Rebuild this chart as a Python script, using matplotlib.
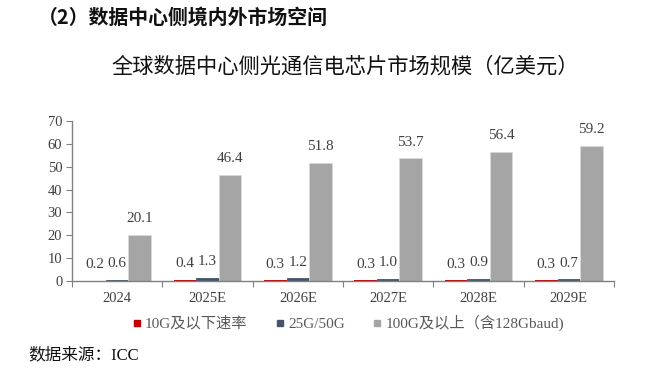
import numpy as np
import matplotlib
matplotlib.use("Agg")
import matplotlib.pyplot as plt
from matplotlib.lines import Line2D

plt.rcParams['font.family'] = ['Liberation Serif', 'Noto Sans CJK SC', 'DejaVu Sans']

years = ['2024', '2025E', '2026E', '2027E', '2028E', '2029E']
s_10g = [0.2, 0.4, 0.3, 0.3, 0.3, 0.3]
s_25g = [0.6, 1.3, 1.2, 1.0, 0.9, 0.7]
s_100g = [20.1, 46.4, 51.8, 53.7, 56.4, 59.2]
names = ['10G及以下速率', '25G/50G', '100G及以上（含128Gbaud)']
colors = ['#C00000', '#44546A', '#A5A5A5']
edges = ['none', '#44546A', '#D9D9D9']

fig = plt.figure(figsize=(6.5, 3.73), dpi=100)
ax = fig.add_axes([72/650, 1-281/373, 542/650, 160/373])

x = np.arange(len(years))
w = 0.25
txt = '#404040'
for i, (vals, c, e) in enumerate(zip([s_10g, s_25g, s_100g], colors, edges)):
    pos = x + (i-1)*w
    ax.bar(pos, vals, w, color=c, edgecolor=e, linewidth=0.6, zorder=2)
    for p, v in zip(pos, vals):
        ax.text(p, v + 4.2, f'{v:.1f}', ha='center', va='bottom', fontsize=11, color=txt)

ax.set_xlim(-0.5, len(years)-0.5)
ax.set_ylim(0, 70)
ax.set_yticks(range(0, 71, 10))
ax.set_xticks(np.arange(-0.5, len(years), 1), minor=False)
ax.set_xticklabels([])
ax.set_xticks(x, minor=True)
ax.set_xticklabels(years, minor=True)
ax.tick_params(axis='x', which='minor', length=0, pad=8, labelsize=10.5, labelcolor=txt)
ax.tick_params(axis='x', which='major', length=4, direction='out', color='#808080')
ax.tick_params(axis='y', length=4, direction='out', color='#808080', labelsize=10.5, labelcolor=txt, pad=3)
for s in ['top', 'right']:
    ax.spines[s].set_visible(False)
for s in ['left', 'bottom']:
    ax.spines[s].set_color('#808080')
    ax.spines[s].set_linewidth(1.0)

handles = [Line2D([], [], marker='s', linestyle='none', color=c, markersize=4.5) for c in colors]
fig.legend(handles, names, loc='center', bbox_to_anchor=(348/650, 1-323/373), ncol=3,
           frameon=False, fontsize=11, handlelength=0.6, handletextpad=0.25, columnspacing=1.8,
           labelcolor='#595959')

fig.text(38/650, 1-17/373, '（2）数据中心侧境内外市场空间', fontsize=14.3, fontweight='bold',
         ha='left', va='center', color='#111111', family=['Noto Sans CJK SC', 'DejaVu Sans'])
fig.text(345/650, 1-67/373, '全球数据中心侧光通信电芯片市场规模（亿美元）', fontsize=15.3,
         ha='center', va='center', color='#111111', family=['Noto Sans CJK SC', 'DejaVu Sans'])
fig.text(28/650, 1-355/373, '数据来源：ICC', fontsize=12, ha='left', va='center', color='#111111')

fig.savefig('out.png', dpi=100)
